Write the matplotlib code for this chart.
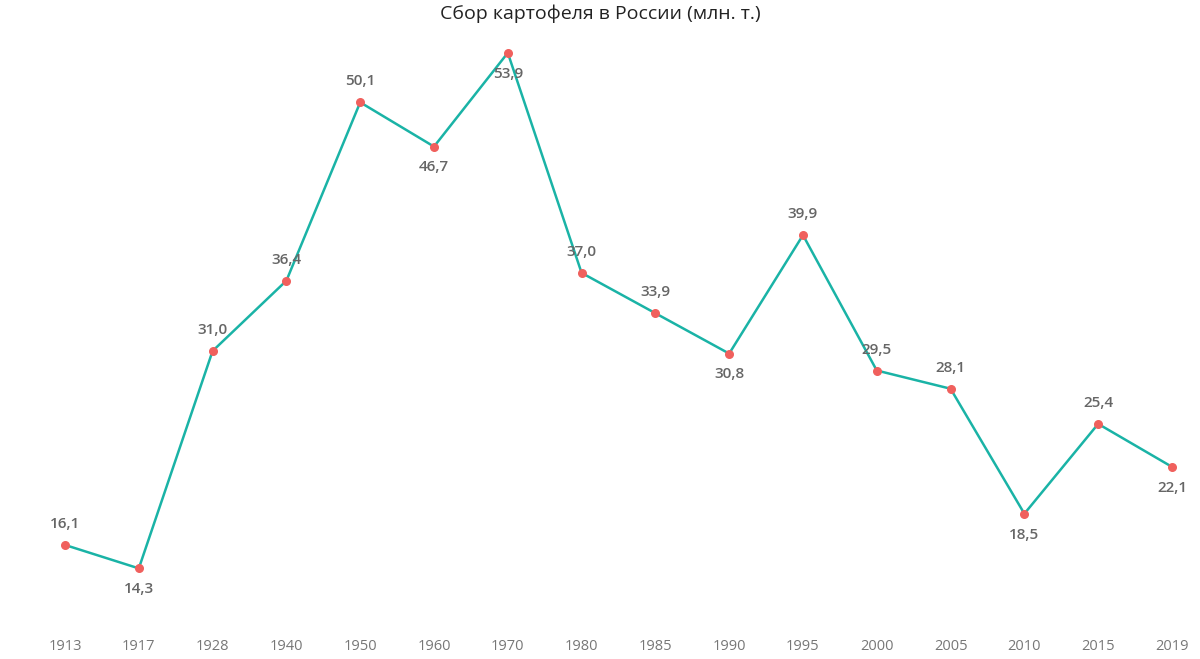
import matplotlib.pyplot as plt
from matplotlib.transforms import blended_transform_factory

years = ["1913", "1917", "1928", "1940", "1950", "1960", "1970", "1980",
         "1985", "1990", "1995", "2000", "2005", "2010", "2015", "2019"]
harvest = [16.1, 14.3, 31.0, 36.4, 50.1, 46.7, 53.9, 37.0,
           33.9, 30.8, 39.9, 29.5, 28.1, 18.5, 25.4, 22.1]
label_below = [False, True, False, False, False, True, True, False,
               False, True, False, False, False, True, False, True]

LINE = "#1ab3a6"
DOT = "#f0605d"
TXT = "#666666"

fig = plt.figure(figsize=(12, 6.59), dpi=100)
ax = fig.add_axes([0, 0, 1, 1])
ax.set_xlim(-0.881, 15.38)
ax.set_ylim(7.34, 57.96)
ax.axis("off")

x = list(range(len(years)))
ax.plot(x, harvest, color=LINE, linewidth=1.8, zorder=2)
ax.scatter(x, harvest, color=DOT, s=30, zorder=3)

for i, (v, below) in enumerate(zip(harvest, label_below)):
    off = -15 if below else 15
    ax.annotate(f"{v:.1f}".replace(".", ","), (i, v), xytext=(0, off),
                textcoords="offset points", ha="center", va="center",
                fontsize=11, color=TXT, fontweight="semibold", family="Open Sans")

tr = blended_transform_factory(ax.transData, ax.transAxes)
for i, y in enumerate(years):
    ax.text(i, 12 / 659, y, transform=tr, ha="center", va="center",
            fontsize=10.5, color="#777777", family="Open Sans")

fig.text(0.5, 1 - 14 / 659, "Сбор картофеля в России (млн. т.)", ha="center",
         va="center", fontsize=14, color="#222222", family="Open Sans")

fig.savefig("out.png", dpi=100)
